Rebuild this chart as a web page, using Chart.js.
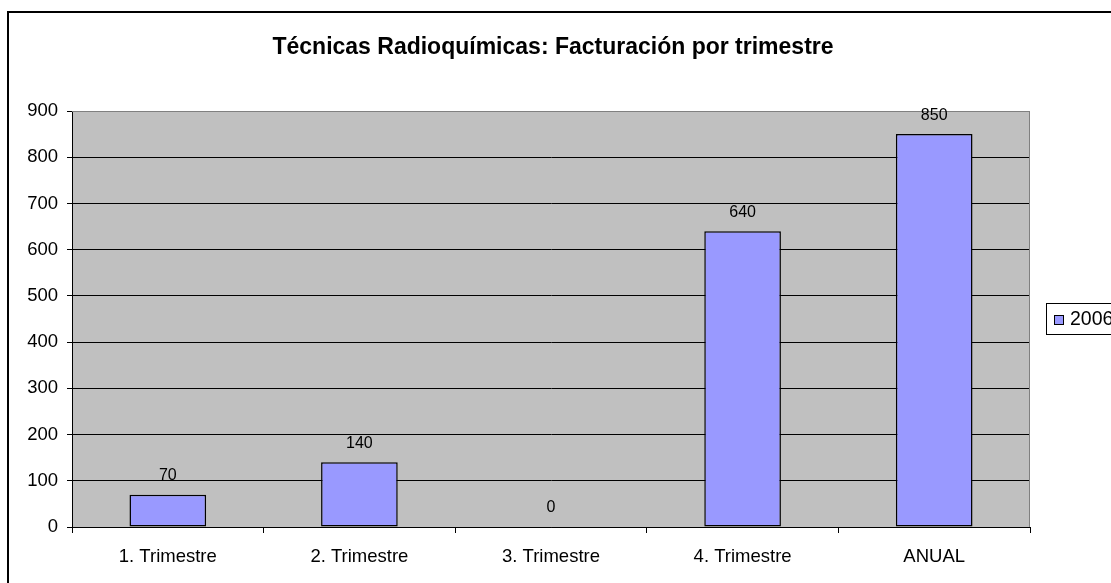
<!DOCTYPE html>
<html>
<head>
<meta charset="utf-8">
<script src="https://cdn.jsdelivr.net/npm/chart.js@4.4.0/dist/chart.umd.min.js"></script>
<style>
html,body{margin:0;padding:0;background:#fff;}
#c{display:block;}
</style>
</head>
<body>
<canvas id="c" width="1111" height="583"></canvas>
<script>
const categories = ["1. Trimestre", "2. Trimestre", "3. Trimestre", "4. Trimestre", "ANUAL"];
const seriesName = "2006";
const values = [70, 140, 0, 640, 850];
const yTicks = [0, 100, 200, 300, 400, 500, 600, 700, 800, 900];
const titleText = "Técnicas Radioquímicas: Facturación por trimestre";

const FONT = "'Liberation Sans', Arial, sans-serif";

const decor = {
  id: 'decor',
  beforeDraw(chart) {
    const ctx = chart.ctx, a = chart.chartArea;
    ctx.save();
    ctx.fillStyle = '#fff';
    ctx.fillRect(0, 0, chart.width, chart.height);
    ctx.strokeStyle = '#000';
    ctx.lineWidth = 2;
    ctx.strokeRect(8, 12, chart.width + 20, chart.height + 20);
    ctx.fillStyle = '#C0C0C0';
    ctx.fillRect(a.left, a.top, a.right - a.left, a.bottom - a.top);
    ctx.restore();
  },
  afterDatasetsDraw(chart) {
    const ctx = chart.ctx, a = chart.chartArea;
    ctx.save();
    ctx.strokeStyle = '#808080';
    ctx.lineWidth = 1;
    ctx.beginPath();
    ctx.moveTo(a.left, a.top + 0.5);
    ctx.lineTo(a.right - 0.5, a.top + 0.5);
    ctx.lineTo(a.right - 0.5, a.bottom);
    ctx.stroke();
    const meta = chart.getDatasetMeta(0);
    ctx.fillStyle = '#000';
    ctx.font = '16px ' + FONT;
    ctx.textAlign = 'center';
    ctx.textBaseline = 'middle';
    meta.data.forEach((bar, i) => {
      ctx.fillText(String(chart.data.datasets[0].data[i]), bar.x, bar.y - 19);
    });
    ctx.font = 'bold 23px ' + FONT;
    ctx.fillText(titleText, 553, 48);
    const ds = chart.data.datasets[0];
    ctx.strokeStyle = '#000';
    ctx.lineWidth = 1;
    ctx.strokeRect(1046.5, 303.5, 100, 31);
    ctx.fillStyle = ds.backgroundColor;
    ctx.fillRect(1054, 315, 10, 10);
    ctx.strokeRect(1054.5, 315.5, 9, 9);
    ctx.fillStyle = '#000';
    ctx.textAlign = 'left';
    ctx.font = '19.5px ' + FONT;
    ctx.fillText(ds.label, 1070, 320);
    ctx.restore();
  }
};

new Chart(document.getElementById('c'), {
  type: 'bar',
  data: {
    labels: categories,
    datasets: [{
      label: seriesName,
      data: values,
      backgroundColor: '#9999FF',
      borderColor: '#000',
      borderWidth: 1.5,
      borderSkipped: false,
      barPercentage: 0.4,
      categoryPercentage: 1.0
    }]
  },
  options: {
    responsive: false,
    animation: false,
    devicePixelRatio: 1,
    layout: { padding: { left: 0, right: 81, top: 111, bottom: 0 } },
    plugins: { legend: { display: false }, title: { display: false }, tooltip: { enabled: false } },
    scales: {
      x: {
        afterFit(s) { s.height = 56; },
        grid: { offset: true, drawOnChartArea: false, drawTicks: true, tickLength: 6, color: '#000' },
        border: { color: '#000', width: 1 },
        ticks: { color: '#000', font: { family: FONT, size: 18.5 }, padding: 13, maxRotation: 0 }
      },
      y: {
        min: 0, max: 900,
        afterFit(s) { s.width = 72; },
        afterBuildTicks(s) { s.ticks = yTicks.map(v => ({ value: v })); },
        grid: {
          color: (c) => (c.tick && c.tick.value === 900) ? '#808080' : '#000',
          tickColor: '#000',
          drawTicks: true, tickLength: 5
        },
        border: { color: '#000', width: 1 },
        ticks: { color: '#000', font: { family: FONT, size: 18.5 }, padding: 9 }
      }
    }
  },
  plugins: [decor]
});
</script>
</body>
</html>
